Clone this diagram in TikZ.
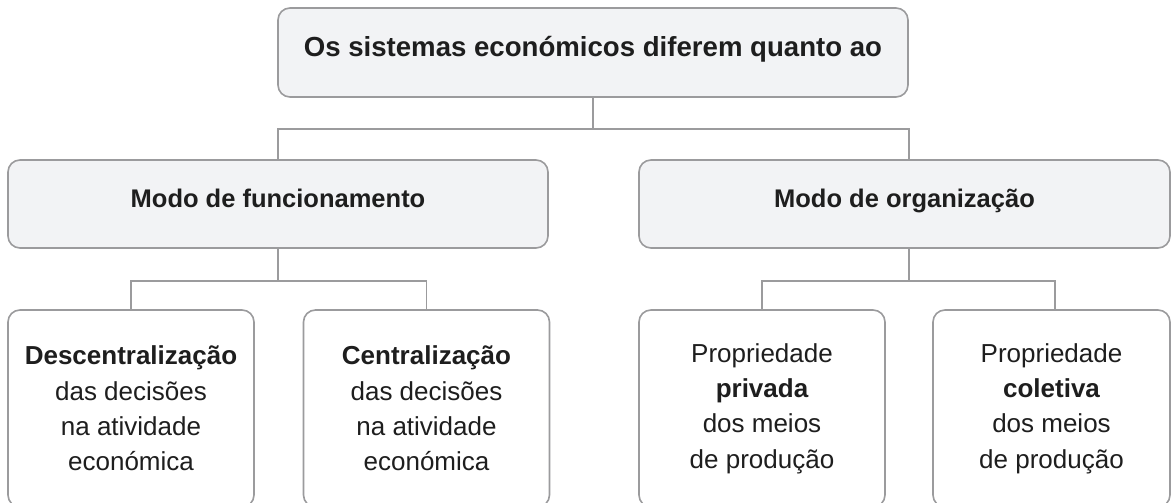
\documentclass[tikz,border=0pt]{standalone}
\usepackage{fontspec}
\setmainfont{Liberation Sans}
\usetikzlibrary{calc}
\definecolor{boxline}{HTML}{9B9B9D}
\definecolor{boxfill}{HTML}{F2F3F5}
\definecolor{txt}{HTML}{1E1E1E}
\tikzset{
  box/.style={draw=boxline, line width=1.6pt, rounded corners=12pt, align=center, text=txt, inner sep=0pt},
  headbox/.style={box, fill=boxfill, text height=0.72em, text depth=0pt, font=\bfseries\fontsize{25.5}{30}\selectfont},
  leafbox/.style={box, fill=white, minimum width=246pt, minimum height=197pt, font=\fontsize{26}{35.3}\selectfont},
  link/.style={draw=boxline, line width=1.6pt},
}
\begin{document}
\begin{tikzpicture}[x=1pt,y=-1pt]
\useasboundingbox (0,0) rectangle (1171,503);
\clip (0,0) rectangle (1171,503);
\fill[white] (0,0) rectangle (1171,503);

\node[headbox, minimum width=630pt, minimum height=89pt, font=\bfseries\fontsize{27.6}{30}\selectfont] (top) at (593,52.5) {Os sistemas económicos diferem quanto ao};
\node[headbox, minimum width=540pt, minimum height=88pt] (func) at (278,204) {Modo de funcionamento};
\node[headbox, minimum width=531pt, minimum height=88pt] (org) at (904.5,204) {Modo de organização};

\node[leafbox] (desc) at (131,408.5) {{\bfseries Descentralização}\\das decisões\\na atividade\\económica};
\node[leafbox] (cent) at (426.5,408.5) {{\bfseries Centralização}\\das decisões\\na atividade\\económica};
\node[leafbox] (priv) at (762,408.5) {Propriedade\\{\bfseries privada}\\dos meios\\de produção};
\node[leafbox, minimum width=237pt] (colet) at (1051.5,408.5) {Propriedade\\{\bfseries coletiva}\\dos meios\\de produção};

\coordinate (orgtop) at ($(org.north)+(4.5,0)$);
\coordinate (orgbot) at ($(org.south)+(4.5,0)$);
\coordinate (colettop) at ($(colet.north)+(3.5,0)$);

\draw[link] (top.south) -- ++(0,31) -| (func.north);
\draw[link] (top.south) -- ++(0,31) -| (orgtop);

\draw[link] (func.south) -- ++(0,32) -| (desc.north);
\draw[link] (func.south) -- ++(0,32) -| (cent.north);

\draw[link] (orgbot) -- ++(0,32) -| (priv.north);
\draw[link] (orgbot) -- ++(0,32) -| (colettop);
\end{tikzpicture}
\end{document}
